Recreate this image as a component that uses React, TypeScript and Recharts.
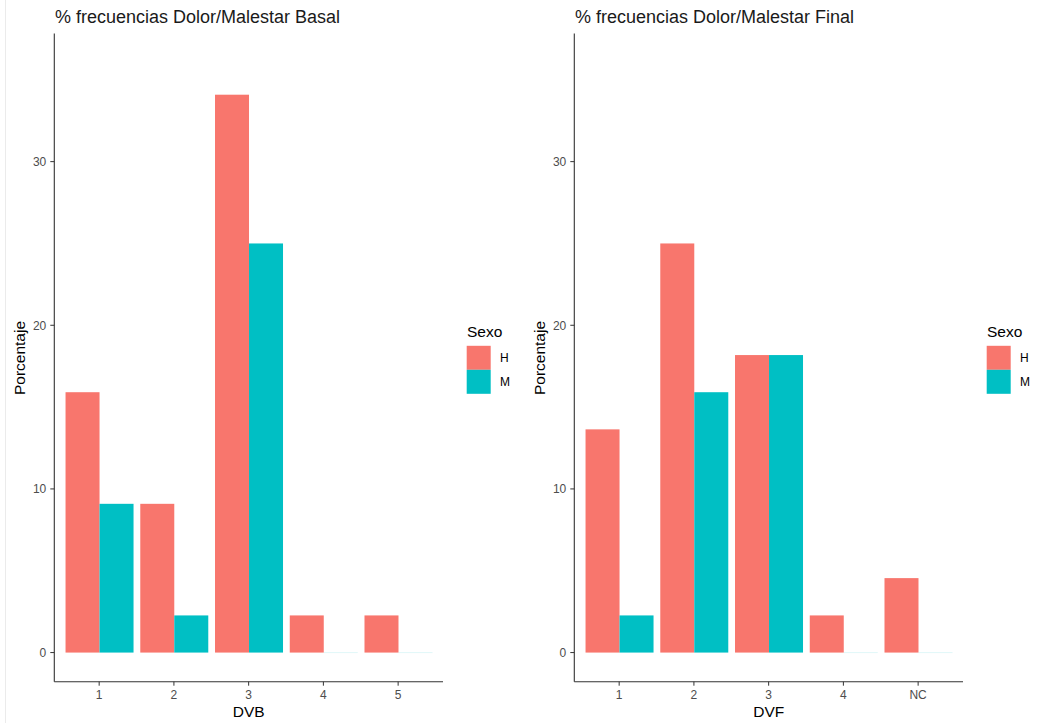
import React from 'react';
import { BarChart, Bar, XAxis, YAxis } from 'recharts';

// Percentage of respondents per pain/discomfort level, split by sex
const basalCategories = ['1', '2', '3', '4', '5'];
const basalHombres = [15.91, 9.09, 34.09, 2.27, 2.27];
const basalMujeres = [9.09, 2.27, 25.0, 0, 0];

const finalCategories = ['1', '2', '3', '4', 'NC'];
const finalHombres = [13.64, 25.0, 18.18, 2.27, 4.55];
const finalMujeres = [2.27, 15.91, 18.18, 0, 0];

const yTicks = [0, 10, 20, 30];
const sexLabels = ['H', 'M'];

const COLOR_H = '#F8766D';
const COLOR_M = '#00BFC4';
const FONT = '"Liberation Sans", Arial, Helvetica, sans-serif';

const buildRows = (cats: string[], h: number[], m: number[]) =>
  cats.map((c, i) => ({ cat: c, H: h[i], M: m[i] }));

// Bars of zero height are still drawn as a faint hairline at the baseline
const makeShape = (color: string) => (props: any) => {
  const { x, y, width, height } = props;
  if (!height || Math.abs(height) < 0.5) {
    return <rect x={x} y={y - 0.5} width={width} height={1} fill={color} fillOpacity={0.12} />;
  }
  const top = height < 0 ? y + height : y;
  return <rect x={x} y={top} width={width} height={Math.abs(height)} fill={color} />;
};

const W = 450;
const H = 723;

function Panel({
  left,
  title,
  xTitle,
  rows,
}: {
  left: number;
  title: string;
  xTitle: string;
  rows: { cat: string; H: number; M: number }[];
}) {
  return (
    <div style={{ position: 'absolute', left, top: 0, width: W + 70, height: H }}>
      <BarChart
        width={W}
        height={H}
        data={rows}
        margin={{ top: 33.5, right: 7, bottom: 0, left: 0 }}
        barCategoryGap="5%"
        barGap={0}
      >
        <XAxis
          dataKey="cat"
          height={41.3}
          padding={{ left: 7.5, right: 7.5 }}
          axisLine={{ stroke: '#333333', strokeWidth: 1.1 }}
          tickLine={{ stroke: '#333333' }}
          tickSize={4}
          tickMargin={5}
          tick={{ fill: '#4d4d4d', fontSize: 12, fontFamily: FONT }}
        />
        <YAxis
          width={54.3}
          domain={[-1.78, 37.83]}
          ticks={yTicks}
          allowDataOverflow
          axisLine={{ stroke: '#333333', strokeWidth: 1.1 }}
          tickLine={{ stroke: '#333333' }}
          tickSize={4}
          tickMargin={4}
          tick={{ fill: '#4d4d4d', fontSize: 12, fontFamily: FONT }}
        />
        <Bar dataKey="H" fill={COLOR_H} isAnimationActive={false} shape={makeShape(COLOR_H)} />
        <Bar dataKey="M" fill={COLOR_M} isAnimationActive={false} shape={makeShape(COLOR_M)} />
      </BarChart>
      <svg
        width={W + 70}
        height={H}
        style={{ position: 'absolute', left: 0, top: 0, pointerEvents: 'none' }}
        fontFamily={FONT}
      >
        <text x={55} y={22.5} fontSize={18} fill="#1a1a1a">
          {title}
        </text>
        <text
          x={24.5}
          y={358}
          fontSize={15.5}
          fill="#000"
          textAnchor="middle"
          transform="rotate(-90, 24.5, 358)"
        >
          Porcentaje
        </text>
        <text x={248.7} y={717} fontSize={15.5} fill="#000" textAnchor="middle">
          {xTitle}
        </text>
        <text x={467} y={336.5} fontSize={15.5} fill="#000">
          Sexo
        </text>
        <rect x={466.7} y={345.8} width={24} height={24} fill={COLOR_H} />
        <rect x={466.7} y={369.8} width={24} height={24} fill={COLOR_M} />
        <text x={500} y={361.8} fontSize={12} fill="#000">
          {sexLabels[0]}
        </text>
        <text x={500} y={385.8} fontSize={12} fill="#000">
          {sexLabels[1]}
        </text>
      </svg>
    </div>
  );
}

export default function App() {
  return (
    <div
      style={{
        position: 'absolute',
        left: 0,
        top: 0,
        width: 1037,
        height: H,
        background: '#ffffff',
        fontFamily: FONT,
        overflow: 'hidden',
      }}
    >
      <div style={{ position: 'absolute', left: 5, top: 0, width: 1, height: H, background: '#ebebeb' }} />
      <Panel
        left={0}
        title="% frecuencias Dolor/Malestar Basal"
        xTitle="DVB"
        rows={buildRows(basalCategories, basalHombres, basalMujeres)}
      />
      <Panel
        left={520}
        title="% frecuencias Dolor/Malestar Final"
        xTitle="DVF"
        rows={buildRows(finalCategories, finalHombres, finalMujeres)}
      />
    </div>
  );
}
